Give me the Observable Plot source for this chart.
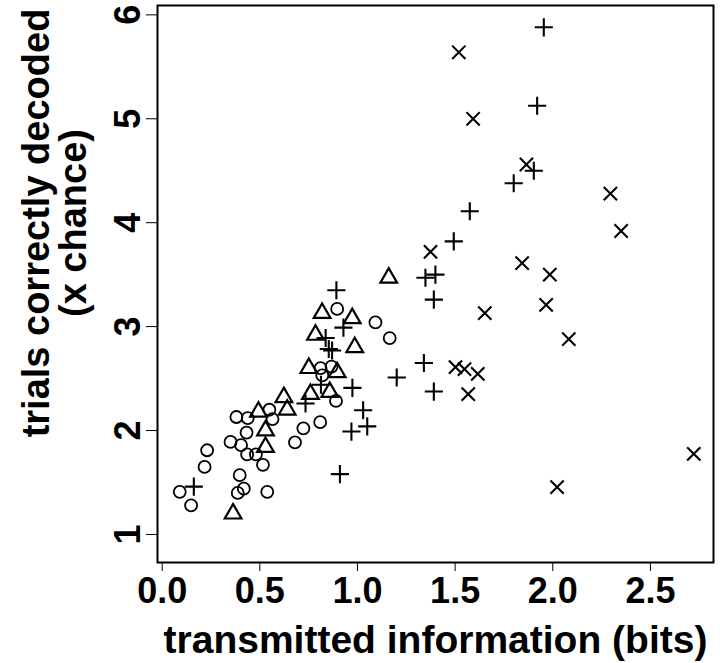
<!DOCTYPE html>
<html><head><meta charset="utf-8">
<script src="https://cdn.jsdelivr.net/npm/d3@7"></script>
<script src="https://cdn.jsdelivr.net/npm/@observablehq/plot@0.6"></script>
<style>html,body{margin:0;padding:0;background:#fff}</style>
</head><body>
<div id="chart"></div>
<script>
// ---- data ----
const circleX = [0.896, 1.092, 1.165, 0.811, 0.867, 0.820, 0.890, 0.809, 0.723, 0.680, 0.549, 0.565, 0.380, 0.438, 0.432, 0.350, 0.404, 0.435, 0.480, 0.516, 0.230, 0.217, 0.397, 0.418, 0.387, 0.538, 0.090, 0.148];
const circleY = [3.17, 3.04, 2.89, 2.60, 2.615, 2.53, 2.285, 2.08, 2.02, 1.885, 2.20, 2.11, 2.13, 2.12, 1.98, 1.89, 1.86, 1.77, 1.77, 1.67, 1.81, 1.65, 1.57, 1.44, 1.40, 1.41, 1.41, 1.28];

const triangleX = [1.160, 0.819, 0.973, 0.785, 0.986, 0.751, 0.896, 0.759, 0.858, 0.623, 0.640, 0.493, 0.529, 0.529, 0.363];
const triangleY = [3.47, 3.13, 3.08, 2.92, 2.80, 2.60, 2.56, 2.35, 2.37, 2.32, 2.20, 2.18, 2.00, 1.84, 1.20];

const plusX = [1.954, 1.920, 1.903, 1.800, 1.575, 1.493, 1.348, 1.399, 1.391, 1.340, 1.391, 0.892, 0.928, 0.837, 0.853, 0.870, 1.201, 0.974, 0.813, 0.734, 1.029, 1.050, 0.969, 0.910, 0.162];
const plusY = [5.88, 5.125, 4.50, 4.38, 4.11, 3.82, 3.47, 3.50, 3.26, 2.65, 2.375, 3.35, 2.99, 2.89, 2.785, 2.77, 2.51, 2.41, 2.44, 2.26, 2.195, 2.04, 1.99, 1.58, 1.46];

const timesX = [1.519, 1.592, 1.865, 2.295, 2.350, 1.374, 1.843, 1.985, 1.966, 1.652, 2.082, 1.502, 1.548, 1.616, 1.567, 2.722, 2.022];
const timesY = [5.64, 5.00, 4.56, 4.28, 3.92, 3.72, 3.61, 3.50, 3.21, 3.13, 2.88, 2.61, 2.59, 2.545, 2.35, 1.776, 1.455];

const xTicks = [0, 0.5, 1, 1.5, 2, 2.5];
const xTickLabels = ["0.0", "0.5", "1.0", "1.5", "2.0", "2.5"];
const yTicks = [1, 2, 3, 4, 5, 6];
const yTickLabels = ["1", "2", "3", "4", "5", "6"];
const xTitle = "transmitted information (bits)";
const yTitleLines = ["trials correctly decoded", "(x chance)"];

// ---- tables ----
const toRows = (xs, ys) => xs.map((x, i) => ({x, y: ys[i]}));
const circles = toRows(circleX, circleY);
const triangles = toRows(triangleX, triangleY);
const pluses = toRows(plusX, plusY);
const times = toRows(timesX, timesY);

const font = "'Liberation Sans', Arial, Helvetica, sans-serif";

const chart = Plot.plot({
  width: 720,
  height: 663,
  marginLeft: 157,
  marginRight: 7,
  marginTop: 5,
  marginBottom: 101,
  style: {fontFamily: font, background: "white", color: "black", overflow: "visible"},
  x: {domain: [-0.024, 2.823], ticks: xTicks, tickSize: 9, tickFormat: () => "", label: null},
  y: {domain: [0.73, 6.09], ticks: yTicks, tickSize: 11, tickFormat: () => "", label: null},
  marks: [
    Plot.frame({stroke: "black", strokeWidth: 2}),
    Plot.dot(circles, {x: "x", y: "y", symbol: "circle", r: 6, fill: "none", stroke: "black", strokeWidth: 1.8}),
    Plot.dot(triangles, {x: "x", y: "y", symbol: "triangle", r: 6.2, fill: "none", stroke: "black", strokeWidth: 2.2}),
    Plot.dot(pluses, {x: "x", y: "y", symbol: "plus", r: 5.9, fill: "none", stroke: "black", strokeWidth: 2.1}),
    Plot.dot(times, {x: "x", y: "y", symbol: "times", r: 6.1, fill: "none", stroke: "black", strokeWidth: 2.1}),
    Plot.text(xTicks, {x: d => d, text: (d, i) => xTickLabels[i], frameAnchor: "bottom", dy: 29, lineAnchor: "middle", fontSize: 36, fontWeight: "bold", fill: "black"}),
    Plot.text(yTicks, {y: d => d, text: (d, i) => yTickLabels[i], frameAnchor: "left", dx: -29, rotate: -90, textAnchor: "middle", lineAnchor: "middle", fontSize: 36, fontWeight: "bold", fill: "black"}),
    Plot.text([xTitle], {text: d => d, frameAnchor: "bottom", dy: 78, lineAnchor: "middle", fontSize: 39, fontWeight: "bold", fill: "black"}),
    Plot.text([yTitleLines.join("\n")], {text: d => d, frameAnchor: "left", dx: -102, dy: -61, rotate: -90, textAnchor: "middle", lineAnchor: "middle", lineHeight: 0.97, fontSize: 38, fontWeight: "bold", fill: "black"})
  ]
});
document.getElementById("chart").append(chart);
</script>
</body></html>
